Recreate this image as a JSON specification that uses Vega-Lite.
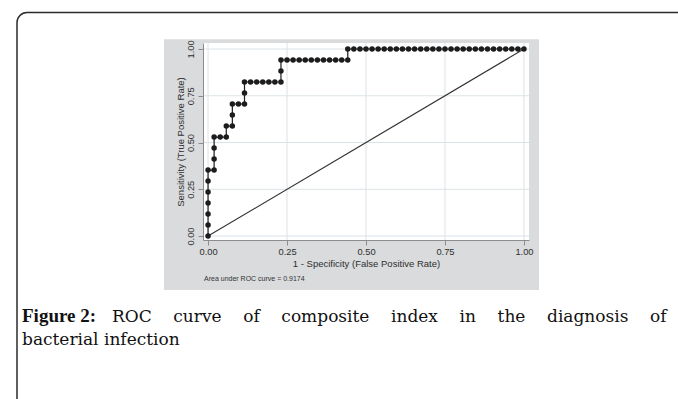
{
  "$schema": "https://vega.github.io/schema/vega-lite/v6.json",
  "width": 326,
  "height": 197,
  "autosize": "none",
  "padding": {"left": 203, "top": 43, "right": 149, "bottom": 159},
  "background": "#ffffff",
  "config": {
    "view": {"stroke": null},
    "axis": {
      "labelFont": "Liberation Sans",
      "titleFont": "Liberation Sans",
      "labelColor": "#2e2e2e",
      "titleColor": "#2e2e2e",
      "titleFontWeight": "normal",
      "domainColor": "#8c8c8c",
      "tickColor": "#8c8c8c",
      "tickSize": 5,
      "grid": false,
      "labelFontSize": 9.3,
      "titleFontSize": 9.5
    }
  },
  "datasets": {
    "roc": [
      {"i": 1, "fpr": 0, "tpr": 0},
      {"i": 2, "fpr": 0, "tpr": 0.0588},
      {"i": 3, "fpr": 0, "tpr": 0.1176},
      {"i": 4, "fpr": 0, "tpr": 0.1765},
      {"i": 5, "fpr": 0, "tpr": 0.2353},
      {"i": 6, "fpr": 0, "tpr": 0.2941},
      {"i": 7, "fpr": 0, "tpr": 0.3529},
      {"i": 8, "fpr": 0.0192, "tpr": 0.3529},
      {"i": 9, "fpr": 0.0192, "tpr": 0.4118},
      {"i": 10, "fpr": 0.0192, "tpr": 0.4706},
      {"i": 11, "fpr": 0.0192, "tpr": 0.5294},
      {"i": 12, "fpr": 0.0385, "tpr": 0.5294},
      {"i": 13, "fpr": 0.0577, "tpr": 0.5294},
      {"i": 14, "fpr": 0.0577, "tpr": 0.5882},
      {"i": 15, "fpr": 0.0769, "tpr": 0.5882},
      {"i": 16, "fpr": 0.0769, "tpr": 0.6471},
      {"i": 17, "fpr": 0.0769, "tpr": 0.7059},
      {"i": 18, "fpr": 0.0962, "tpr": 0.7059},
      {"i": 19, "fpr": 0.1154, "tpr": 0.7059},
      {"i": 20, "fpr": 0.1154, "tpr": 0.7647},
      {"i": 21, "fpr": 0.1154, "tpr": 0.8235},
      {"i": 22, "fpr": 0.1346, "tpr": 0.8235},
      {"i": 23, "fpr": 0.1538, "tpr": 0.8235},
      {"i": 24, "fpr": 0.1731, "tpr": 0.8235},
      {"i": 25, "fpr": 0.1923, "tpr": 0.8235},
      {"i": 26, "fpr": 0.2115, "tpr": 0.8235},
      {"i": 27, "fpr": 0.2308, "tpr": 0.8235},
      {"i": 28, "fpr": 0.2308, "tpr": 0.8824},
      {"i": 29, "fpr": 0.2308, "tpr": 0.9412},
      {"i": 30, "fpr": 0.25, "tpr": 0.9412},
      {"i": 31, "fpr": 0.2692, "tpr": 0.9412},
      {"i": 32, "fpr": 0.2885, "tpr": 0.9412},
      {"i": 33, "fpr": 0.3077, "tpr": 0.9412},
      {"i": 34, "fpr": 0.3269, "tpr": 0.9412},
      {"i": 35, "fpr": 0.3462, "tpr": 0.9412},
      {"i": 36, "fpr": 0.3654, "tpr": 0.9412},
      {"i": 37, "fpr": 0.3846, "tpr": 0.9412},
      {"i": 38, "fpr": 0.4038, "tpr": 0.9412},
      {"i": 39, "fpr": 0.4231, "tpr": 0.9412},
      {"i": 40, "fpr": 0.4423, "tpr": 0.9412},
      {"i": 41, "fpr": 0.4423, "tpr": 1},
      {"i": 42, "fpr": 0.4615, "tpr": 1},
      {"i": 43, "fpr": 0.4808, "tpr": 1},
      {"i": 44, "fpr": 0.5, "tpr": 1},
      {"i": 45, "fpr": 0.5192, "tpr": 1},
      {"i": 46, "fpr": 0.5385, "tpr": 1},
      {"i": 47, "fpr": 0.5577, "tpr": 1},
      {"i": 48, "fpr": 0.5769, "tpr": 1},
      {"i": 49, "fpr": 0.5962, "tpr": 1},
      {"i": 50, "fpr": 0.6154, "tpr": 1},
      {"i": 51, "fpr": 0.6346, "tpr": 1},
      {"i": 52, "fpr": 0.6538, "tpr": 1},
      {"i": 53, "fpr": 0.6731, "tpr": 1},
      {"i": 54, "fpr": 0.6923, "tpr": 1},
      {"i": 55, "fpr": 0.7115, "tpr": 1},
      {"i": 56, "fpr": 0.7308, "tpr": 1},
      {"i": 57, "fpr": 0.75, "tpr": 1},
      {"i": 58, "fpr": 0.7692, "tpr": 1},
      {"i": 59, "fpr": 0.7885, "tpr": 1},
      {"i": 60, "fpr": 0.8077, "tpr": 1},
      {"i": 61, "fpr": 0.8269, "tpr": 1},
      {"i": 62, "fpr": 0.8462, "tpr": 1},
      {"i": 63, "fpr": 0.8654, "tpr": 1},
      {"i": 64, "fpr": 0.8846, "tpr": 1},
      {"i": 65, "fpr": 0.9038, "tpr": 1},
      {"i": 66, "fpr": 0.9231, "tpr": 1},
      {"i": 67, "fpr": 0.9423, "tpr": 1},
      {"i": 68, "fpr": 0.9615, "tpr": 1},
      {"i": 69, "fpr": 0.9808, "tpr": 1},
      {"i": 70, "fpr": 1, "tpr": 1}
    ],
    "diag": [
      {"fpr": 0, "tpr": 0},
      {"fpr": 1, "tpr": 1}
    ],
    "grid": [
      {"v": 0}, {"v": 0.25}, {"v": 0.5}, {"v": 0.75}, {"v": 1}
    ]
  },
  "layer": [
    {
      "data": {"values": [{}]},
      "mark": {"type": "rect", "fill": "#ffffff", "stroke": "#2b2b2b", "strokeWidth": 1.5, "cornerRadius": 10},
      "encoding": {
        "x": {"datum": -0.6048, "type": "quantitative", "scale": {"domain": [-0.016, 1.016], "nice": false, "zero": false}},
        "x2": {"datum": 1.557},
        "y": {"datum": 1.1949, "type": "quantitative", "scale": {"domain": [-0.021, 1.032], "nice": false, "zero": false}},
        "y2": {"datum": -0.983}
      }
    },
    {
      "data": {"values": [{}]},
      "mark": {"type": "rect", "fill": "#d9dbdd"},
      "encoding": {
        "x": {"datum": -0.1394, "type": "quantitative", "scale": {"domain": [-0.016, 1.016], "nice": false, "zero": false}},
        "x2": {"datum": 1.0477},
        "y": {"datum": 1.0517, "type": "quantitative", "scale": {"domain": [-0.021, 1.032], "nice": false, "zero": false}},
        "y2": {"datum": -0.2883}
      }
    },
    {
      "data": {"values": [{}]},
      "mark": {"type": "rect", "fill": "#ffffff"},
      "encoding": {
        "x": {"datum": -0.016, "type": "quantitative", "scale": {"domain": [-0.016, 1.016], "nice": false, "zero": false}},
        "x2": {"datum": 1.016},
        "y": {"datum": 1.032, "type": "quantitative", "scale": {"domain": [-0.021, 1.032], "nice": false, "zero": false}},
        "y2": {"datum": -0.021}
      }
    },
    {
      "data": {"name": "grid"},
      "mark": {"type": "rule", "color": "#dce3e7", "strokeWidth": 1},
      "encoding": {
        "x": {"field": "v", "type": "quantitative", "scale": {"domain": [-0.016, 1.016], "nice": false, "zero": false}}
      }
    },
    {
      "data": {"name": "grid"},
      "mark": {"type": "rule", "color": "#dce3e7", "strokeWidth": 1},
      "encoding": {
        "y": {"field": "v", "type": "quantitative", "scale": {"domain": [-0.021, 1.032], "nice": false, "zero": false}}
      }
    },
    {
      "data": {"name": "diag"},
      "mark": {"type": "line", "color": "#333333", "strokeWidth": 1.1},
      "encoding": {
        "x": {"field": "fpr", "type": "quantitative", "scale": {"domain": [-0.016, 1.016], "nice": false, "zero": false}},
        "y": {"field": "tpr", "type": "quantitative", "scale": {"domain": [-0.021, 1.032], "nice": false, "zero": false}}
      }
    },
    {
      "data": {"name": "roc"},
      "mark": {"type": "line", "color": "#1c1c1c", "strokeWidth": 1.2, "point": {"filled": true, "size": 30, "color": "#1c1c1c", "opacity": 1}},
      "encoding": {
        "x": {
          "field": "fpr", "type": "quantitative",
          "scale": {"domain": [-0.016, 1.016], "nice": false, "zero": false},
          "axis": {"title": "1 - Specificity (False Positive Rate)", "values": [0, 0.25, 0.5, 0.75, 1], "format": ".2f", "labelPadding": 2, "titlePadding": 2, "labelFlush": false, "zindex": 2}
        },
        "y": {
          "field": "tpr", "type": "quantitative",
          "scale": {"domain": [-0.021, 1.032], "nice": false, "zero": false},
          "axis": {"title": "Sensitivity (True Positive Rate)", "values": [0, 0.25, 0.5, 0.75, 1], "format": ".2f", "labelAngle": 270, "labelAlign": "center", "labelBaseline": "bottom", "labelPadding": 3, "titlePadding": 1, "labelFlush": false, "zindex": 2}
        },
        "order": {"field": "i", "type": "quantitative"}
      }
    },
    {
      "data": {"values": [{}]},
      "mark": {"type": "text", "text": "Area under ROC curve = 0.9174", "align": "left", "baseline": "alphabetic", "font": "Liberation Sans", "fontSize": 7, "color": "#333333"},
      "encoding": {
        "x": {"datum": -0.0128, "type": "quantitative", "scale": {"domain": [-0.016, 1.016], "nice": false, "zero": false}},
        "y": {"datum": -0.2375, "type": "quantitative", "scale": {"domain": [-0.021, 1.032], "nice": false, "zero": false}}
      }
    },
    {
      "data": {"values": [{}]},
      "mark": {"type": "text", "text": "Figure 2:", "align": "left", "baseline": "alphabetic", "font": "Liberation Serif", "fontSize": 19, "fontWeight": "bold", "color": "#111111"},
      "encoding": {
        "x": {"datum": -0.589, "type": "quantitative", "scale": {"domain": [-0.016, 1.016], "nice": false, "zero": false}},
        "y": {"datum": -0.4593, "type": "quantitative", "scale": {"domain": [-0.021, 1.032], "nice": false, "zero": false}}
      }
    },
    {
      "data": {"values": [{}]},
      "mark": {"type": "text", "text": "ROC \u00a0\u00a0\u00a0curve \u00a0\u00a0\u00a0of \u00a0\u00a0\u00a0composite \u00a0\u00a0\u00a0index \u00a0\u00a0\u00a0in \u00a0\u00a0\u00a0the \u00a0\u00a0\u00a0diagnosis \u00a0\u00a0\u00a0of", "align": "left", "baseline": "alphabetic", "font": "DejaVu Serif", "fontSize": 17, "color": "#111111"},
      "encoding": {
        "x": {"datum": -0.3041, "type": "quantitative", "scale": {"domain": [-0.016, 1.016], "nice": false, "zero": false}},
        "y": {"datum": -0.4593, "type": "quantitative", "scale": {"domain": [-0.021, 1.032], "nice": false, "zero": false}}
      }
    },
    {
      "data": {"values": [{}]},
      "mark": {"type": "text", "text": "bacterial infection", "align": "left", "baseline": "alphabetic", "font": "DejaVu Serif", "fontSize": 17, "color": "#111111"},
      "encoding": {
        "x": {"datum": -0.589, "type": "quantitative", "scale": {"domain": [-0.016, 1.016], "nice": false, "zero": false}},
        "y": {"datum": -0.5822, "type": "quantitative", "scale": {"domain": [-0.021, 1.032], "nice": false, "zero": false}}
      }
    }
  ]
}
